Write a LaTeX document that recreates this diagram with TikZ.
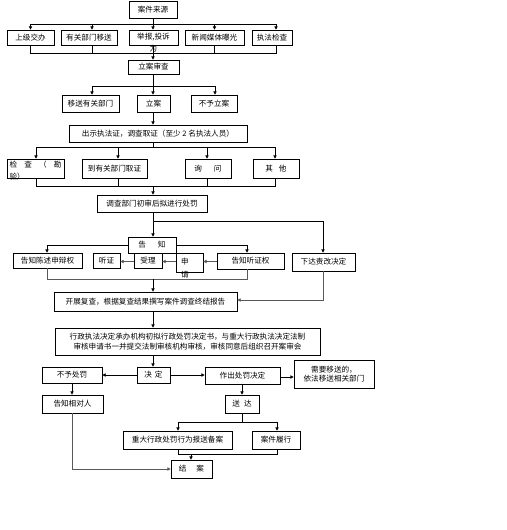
\documentclass[tikz,border=0pt]{standalone}
\usepackage{fontspec}
\setmainfont{Noto Sans CJK SC}
\usetikzlibrary{arrows.meta}
\begin{document}
\begin{tikzpicture}[x=1pt,y=-1pt,
  box/.style={draw=black, line width=0.7pt, inner sep=0pt, font=\fontsize{7.6}{9.5}\selectfont, align=center},
  ln/.style={line width=0.6pt, draw=black},
  gln/.style={line width=0.6pt, draw=black!65},
  arr/.style={ln, -{Triangle[length=3.2pt,width=3.2pt]}},
  garr/.style={gln, -{Triangle[length=3.2pt,width=3.2pt]}},
]
\fill[white] (0,0) rectangle (506,530);
\useasboundingbox (0,0) rectangle (506,530);

% ---- nodes ----
\node[box, minimum width=48, minimum height=17] (src) at (153,9.5) {案件来源};
\node[box, minimum width=47, minimum height=15] (a1) at (30.5,37.5) {上级交办};
\node[box, minimum width=56, minimum height=15] (a2) at (89,37.5) {有关部门移送};
\node[box, minimum width=49, minimum height=15, text width=45pt, align=center,
      text height=5.5pt, text depth=1.5pt,
      font=\fontsize{7.6}{12}\selectfont] (a3) at (153.5,37.5) {举报,投诉\\为};
\node[box, minimum width=59, minimum height=15] (a4) at (214.5,37.5) {新闻媒体曝光};
\node[box, minimum width=40, minimum height=15] (a5) at (272,37.5) {执法检查};

\node[box, minimum width=51, minimum height=14] (review) at (153.5,67) {立案审查};
\node[box, minimum width=57, minimum height=17] (r1) at (90.5,103.5) {移送有关部门};
\node[box, minimum width=33, minimum height=17] (r2) at (153.5,103.5) {立案};
\node[box, minimum width=46, minimum height=17] (r3) at (214,103.5) {不予立案};

\node[box, minimum width=178, minimum height=17] (show) at (158,133.5) {出示执法证，调查取证（至少 2 名执法人员）};

\node[box, minimum width=57, minimum height=19, text width=52pt, align=justify,
      text height=5.5pt, text depth=8pt, font=\fontsize{7.6}{12.5}\selectfont] (i1) at (35.5,168.5)
      {检\hfill 查\hfill （\hfill 勘\\验）};
\node[box, minimum width=65, minimum height=19] (i2) at (114.5,168.5) {到有关部门取证};
\node[box, minimum width=46, minimum height=19] (i3) at (208,168.5) {询\hspace{12pt}问};
\node[box, minimum width=46, minimum height=19] (i4) at (276,168.5) {其\hspace{6pt}他};

\node[box, minimum width=110, minimum height=17] (prelim) at (152,203.5) {调查部门初审后拟进行处罚};

\node[box, minimum width=48, minimum height=16] (notify) at (152,245) {告\hspace{12pt}知};
\node[box, minimum width=69, minimum height=15] (b1) at (47.5,260.5) {告知陈述申辩权};
\node[box, minimum width=27, minimum height=15] (b2) at (106.5,260.5) {听证};
\node[box, minimum width=28, minimum height=15] (b3) at (148,260.5) {受理};
\node[box, minimum width=27, minimum height=19, text width=17pt, align=left,
      text height=5.5pt, text depth=1.5pt, font=\fontsize{7.6}{12.5}\selectfont] (b4) at (189.5,262.5) {申\\请};
\node[box, minimum width=67, minimum height=16] (b5) at (250.5,261) {告知听证权};
\node[box, minimum width=63, minimum height=18] (order) at (323.5,262) {下达责改决定};

\node[box, minimum width=183, minimum height=19] (recheck) at (145.5,301.5) {开展复查，根据复查结果撰写案件调查终结报告};

\node[box, minimum width=265, minimum height=27] (legal) at (187.5,341.5)
  {行政执法决定承办机构初拟行政处罚决定书，与重大行政执法决定法制\\审核申请书一并提交法制审核机构审核，审核同意后组织召开案审会};

\node[box, minimum width=60, minimum height=16] (nopen) at (72,375) {不予处罚};
\node[box, minimum width=33, minimum height=16] (decide) at (153.5,375) {决\hspace{3pt}定};
\node[box, minimum width=75, minimum height=17] (pen) at (242.5,375.5) {作出处罚决定};
\node[box, minimum width=80, minimum height=28] (transfer) at (334,374) {需要移送的，\\依法移送相关部门};

\node[box, minimum width=61, minimum height=18] (inform) at (72.5,404) {告知相对人};
\node[box, minimum width=34, minimum height=18] (deliver) at (242,404) {送\hspace{4pt}达};
\node[box, minimum width=109, minimum height=18] (file) at (177.5,440) {重大行政处罚行为报送备案};
\node[box, minimum width=48, minimum height=18] (exec) at (276,440) {案件履行};
\node[box, minimum width=41, minimum height=18] (close) at (191.5,469) {结\hspace{10pt}案};

% ---- connectors ----
\coordinate (bus1) at (153,24);
\coordinate (bus2) at (153,53);
\draw[ln] (src.south) -- (bus1);
\draw[ln] (a1.north |- bus1) -- ([xshift=4pt]a5.north |- bus1);
\draw[arr] (a1.north |- bus1) -- (a1.north);
\draw[arr] ([xshift=3pt]a2.north |- bus1) -- ([xshift=3pt]a2.north);
\draw[arr] (bus1) -- (bus1 |- a3.north);
\draw[arr] (a4.north |- bus1) -- (a4.north);
\draw[arr] ([xshift=4pt]a5.north |- bus1) -- ([xshift=4pt]a5.north);
\draw[ln] (a1.south) -- (a1.south |- bus2) -- ([xshift=4pt]a5.south |- bus2) -- ([xshift=4pt]a5.south);
\draw[ln] ([xshift=3pt]a2.south) -- ([xshift=3pt]a2.south |- bus2);
\draw[ln] (a4.south) -- (a4.south |- bus2);
\draw[arr] (bus2 |- a3.south) -- (bus2 |- review.north);

\coordinate (bus3) at (153,86);
\draw[ln] (bus3 |- review.south) -- (bus3);
\draw[ln] ([xshift=1.5pt]r1.north |- bus3) -- ([xshift=1pt]r3.north |- bus3);
\draw[arr] ([xshift=1.5pt]r1.north |- bus3) -- ([xshift=1.5pt]r1.north);
\draw[arr] (bus3) -- (bus3 |- r2.north);
\draw[arr] ([xshift=1pt]r3.north |- bus3) -- ([xshift=1pt]r3.north);
\draw[arr] (bus3 |- r2.south) -- (bus3 |- show.north);

\coordinate (bus4) at (153,147);
\coordinate (bus5) at (153,186);
\draw[ln] (bus4 |- show.south) -- (bus4);
\draw[ln] ([xshift=0.5pt]i1.north |- bus4) -- ([xshift=-1pt]i4.north |- bus4);
\draw[arr] ([xshift=0.5pt]i1.north |- bus4) -- ([xshift=0.5pt]i1.north);
\draw[arr] ([xshift=3.5pt]i2.north |- bus4) -- ([xshift=3.5pt]i2.north);
\draw[arr] ([xshift=-1pt]i3.north |- bus4) -- ([xshift=-1pt]i3.north);
\draw[arr] ([xshift=-1pt]i4.north |- bus4) -- ([xshift=-1pt]i4.north);
\draw[ln] ([xshift=0.5pt]i1.south) -- ([xshift=0.5pt]i1.south |- bus5) -- ([xshift=-1pt]i4.south |- bus5) -- ([xshift=-1pt]i4.south);
\draw[ln] ([xshift=3.5pt]i2.south) -- ([xshift=3.5pt]i2.south |- bus5);
\draw[ln] ([xshift=-1pt]i3.south) -- ([xshift=-1pt]i3.south |- bus5);
\draw[arr] (bus5) -- (bus5 |- prelim.north);

\coordinate (j1) at (153,221);
\draw[arr] (j1 |- prelim.south) -- (j1 |- notify.north);
\draw[arr] (j1) -| ([xshift=-0.5pt]order.north);

\coordinate (yrow) at (0,261.5);
\draw[arr] (notify.west) -| ([xshift=-0.5pt]b1.north);
\draw[arr] (notify.east) -| ([xshift=-3.5pt]b5.north);
\draw[garr] (b5.west |- yrow) -- (b4.east |- yrow);
\draw[garr] (b4.west |- yrow) -- (b3.east |- yrow);
\draw[garr] (b3.west |- yrow) -- (b2.east |- yrow);

\coordinate (bus6) at (153,279);
\draw[gln] ([xshift=-0.5pt]b1.south) -- ([xshift=-0.5pt]b1.south |- bus6) -- ([xshift=-3.5pt]b5.south |- bus6) -- ([xshift=-3.5pt]b5.south);
\draw[arr] (bus6) -- (bus6 |- recheck.north);
\draw[garr] (order.south) |- ([yshift=1.5pt]recheck.east);

\draw[arr] (bus6 |- recheck.south) -- (bus6 |- legal.north);
\draw[arr] (bus6 |- legal.south) -- (bus6 |- decide.north);
\draw[arr] (decide.west) -- (nopen.east);
\draw[arr] (decide.east) -- (decide.east -| pen.west);
\draw[arr] ([yshift=-1.5pt]pen.east) -- ([yshift=-1.5pt]pen.east -| transfer.west);
\draw[arr] (nopen.south) -- (nopen.south |- inform.north);
\draw[arr] (pen.south -| deliver) -- (deliver.north);

\coordinate (bus7) at (242,422);
\coordinate (bus8) at (191,454);
\draw[ln] (deliver.south) -- (bus7);
\draw[ln] ([xshift=0.5pt]file.north |- bus7) -- ([xshift=1pt]exec.north |- bus7);
\draw[arr] ([xshift=0.5pt]file.north |- bus7) -- ([xshift=0.5pt]file.north);
\draw[arr] ([xshift=1pt]exec.north |- bus7) -- ([xshift=1pt]exec.north);
\draw[ln] ([xshift=0.5pt]file.south) -- ([xshift=0.5pt]file.south |- bus8) -- ([xshift=1pt]exec.south |- bus8) -- ([xshift=1pt]exec.south);
\draw[arr] (bus8) -- (bus8 |- close.north);
\draw[garr] (inform.south) |- (close.west);
\end{tikzpicture}
\end{document}
